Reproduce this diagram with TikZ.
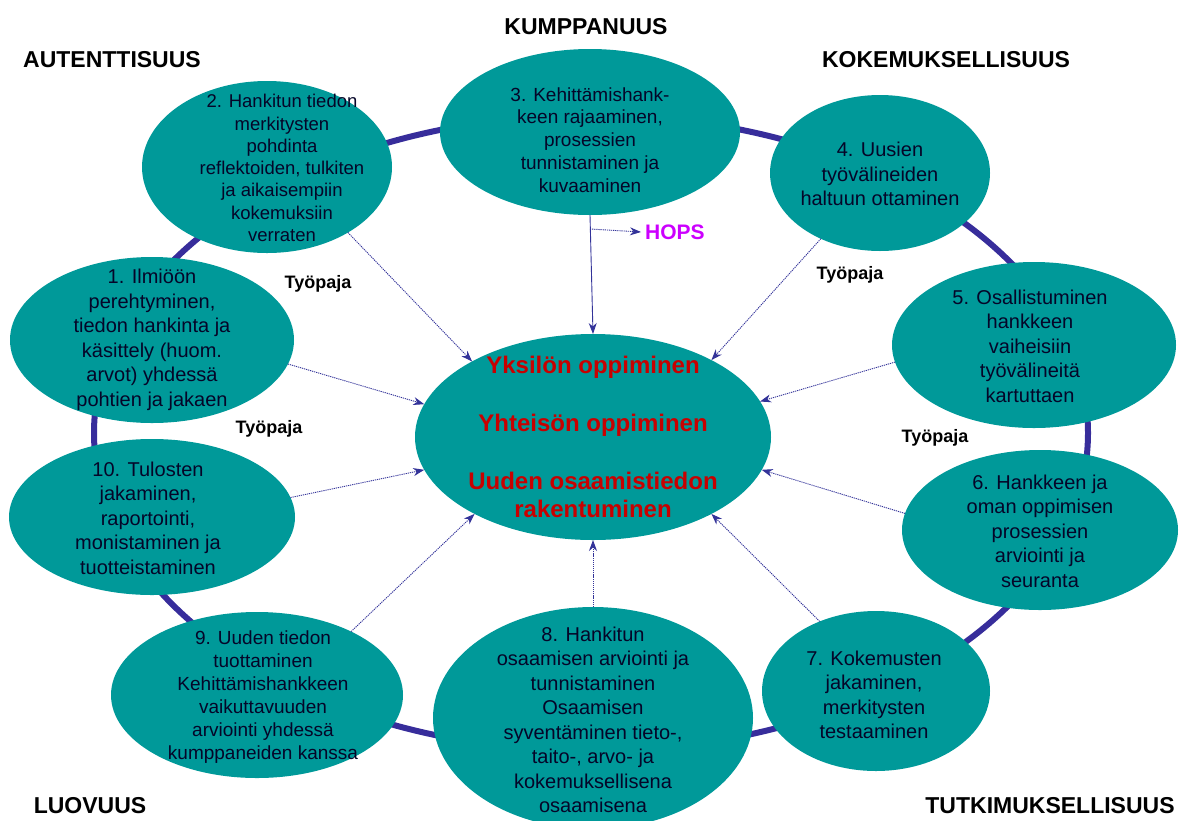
\documentclass[tikz,border=0pt]{standalone}
\usepackage{fontspec}
\setmainfont{Liberation Sans}
\usetikzlibrary{arrows.meta,shapes.geometric,calc}
\definecolor{tealfill}{RGB}{0,153,153}
\definecolor{ringcol}{RGB}{55,45,155}
\definecolor{arrcol}{RGB}{51,51,153}
\definecolor{txtcol}{RGB}{5,5,40}
\definecolor{redcol}{RGB}{200,0,0}
\definecolor{hopscol}{RGB}{204,0,255}
\begin{document}
\begin{tikzpicture}[x=1pt,y=-1pt,
  oval/.style={ellipse, fill=tealfill, inner sep=0pt, outer sep=0pt},
  otext/.style={align=center, text=txtcol, inner sep=0pt, font=\fontsize{20}{24.5}\selectfont},
  head/.style={font=\bfseries\fontsize{23}{26}\selectfont, text=black, inner sep=0pt},
  tp/.style={font=\bfseries\fontsize{18}{21}\selectfont, text=black, inner sep=0pt},
  tip/.style={-{Stealth[length=11pt,width=8pt,inset=3.5pt]}},
  arrdot/.style={draw=arrcol, line width=0.9pt, dash pattern=on 1.2pt off 0.9pt, tip},
  arrsolid/.style={draw=arrcol, line width=0.9pt, tip}]
\useasboundingbox (0,0) rectangle (1180,820);
\clip (0,0) rectangle (1180,820);
% ring
\draw[ringcol, line width=6pt] (591,433) ellipse [x radius=497, y radius=318];
% ellipses
\node[oval, minimum width=250pt, minimum height=172pt] (e2) at (267,167) {};
\node[oval, minimum width=300pt, minimum height=166pt] (e3) at (590,132) {};
\node[oval, minimum width=220pt, minimum height=156pt] (e4) at (880,173) {};
\node[oval, minimum width=284pt, minimum height=166pt] (e5) at (1034,345) {};
\node[oval, minimum width=276pt, minimum height=160pt] (e6) at (1040,530) {};
\node[oval, minimum width=228pt, minimum height=160pt] (e7) at (876,691) {};
\node[oval, minimum width=320pt, minimum height=222pt] (e8) at (593,718) {};
\node[oval, minimum width=292pt, minimum height=166pt] (e9) at (257,695) {};
\node[oval, minimum width=286pt, minimum height=156pt] (e10) at (152,517) {};
\node[oval, minimum width=284pt, minimum height=166pt] (e1) at (152,340) {};
\node[oval, minimum width=356pt, minimum height=206pt] (c) at (593,437) {};
% texts
\node[otext, font=\fontsize{18.5}{22.3}\selectfont] (t2) at (282,168) {2. Hankitun tiedon\\merkitysten\\pohdinta\\reflektoiden, tulkiten\\ja aikaisempiin\\kokemuksiin\\verraten};
\node[otext, font=\fontsize{19}{22.8}\selectfont] (t3) at (590,140) {3. Kehittämishank-\\keen rajaaminen,\\prosessien\\tunnistaminen ja\\kuvaaminen};
\node[otext] (t4) at (880,174) {4. Uusien\\työvälineiden\\haltuun ottaminen};
\node[otext] (t5) at (1030,346) {5. Osallistuminen\\hankkeen\\vaiheisiin\\työvälineitä\\kartuttaen};
\node[otext] (t6) at (1040,531) {6. Hankkeen ja\\oman oppimisen\\prosessien\\arviointi ja\\seuranta};
\node[otext] (t7) at (874,695) {7. Kokemusten\\jakaminen,\\merkitysten\\testaaminen};
\node[otext] (t8) at (593,720) {8. Hankitun\\osaamisen arviointi ja\\tunnistaminen\\Osaamisen\\syventäminen tieto-,\\taito-, arvo- ja\\kokemuksellisena\\osaamisena};
\node[otext, font=\fontsize{19}{23}\selectfont] (t9) at (263,697) {9. Uuden tiedon\\tuottaminen\\Kehittämishankkeen\\vaikuttavuuden\\arviointi yhdessä\\kumppaneiden kanssa};
\node[otext] (t10) at (148,518) {10. Tulosten\\jakaminen,\\raportointi,\\monistaminen ja\\tuotteistaminen};
\node[otext] (t1) at (152,340) {1. Ilmiöön\\perehtyminen,\\tiedon hankinta ja\\käsittely (huom.\\arvot) yhdessä\\pohtien ja jakaen};
\node[align=center, text=redcol, inner sep=0pt, font=\bfseries\fontsize{24}{28}\selectfont] (tc) at (593,437)
  {Yksilön oppiminen\\[30pt]Yhteisön oppiminen\\[30pt]Uuden osaamistiedon\\rakentuminen};
% headings
\node[head] (h1) at (586,27) {KUMPPANUUS};
\node[head] (h2) at (112,60) {AUTENTTISUUS};
\node[head] (h3) at (946,60) {KOKEMUKSELLISUUS};
\node[head] (h4) at (90,806) {LUOVUUS};
\node[head] (h5) at (1050,806) {TUTKIMUKSELLISUUS};
% tyopaja
\node[tp] (w1) at (318,284) {Työpaja};
\node[tp] (w2) at (269,429) {Työpaja};
\node[tp] (w3) at (850,275) {Työpaja};
\node[tp] (w4) at (935,438) {Työpaja};
\node[font=\bfseries\fontsize{21}{24}\selectfont, text=hopscol, inner sep=0pt, anchor=west] (hops) at (645,232) {HOPS};
% arrows
\draw[arrdot] (e2.-39) -- (c.148);
\draw[arrdot] (e1.-10) -- (c.169);
\draw[arrdot] (e10.8) -- (c.191);
\draw[arrdot] (e9.34) -- (c.-147);
\draw[arrdot] (e8.north) -- (c.south);
\draw[arrdot] (e7.129) -- (c.-33);
\draw[arrdot] (e6.173) -- (c.-11);
\draw[arrdot] (e5.187) -- (c.12);
\draw[arrdot] (e4.-132) -- (c.33);
\draw[arrsolid] (e3.south) -- (c.north);
\coordinate (hb) at ($(e3.south)+(0,14)$);
\draw[arrdot] (hb) -- ([xshift=-4pt]hops.west);
\end{tikzpicture}
\end{document}
